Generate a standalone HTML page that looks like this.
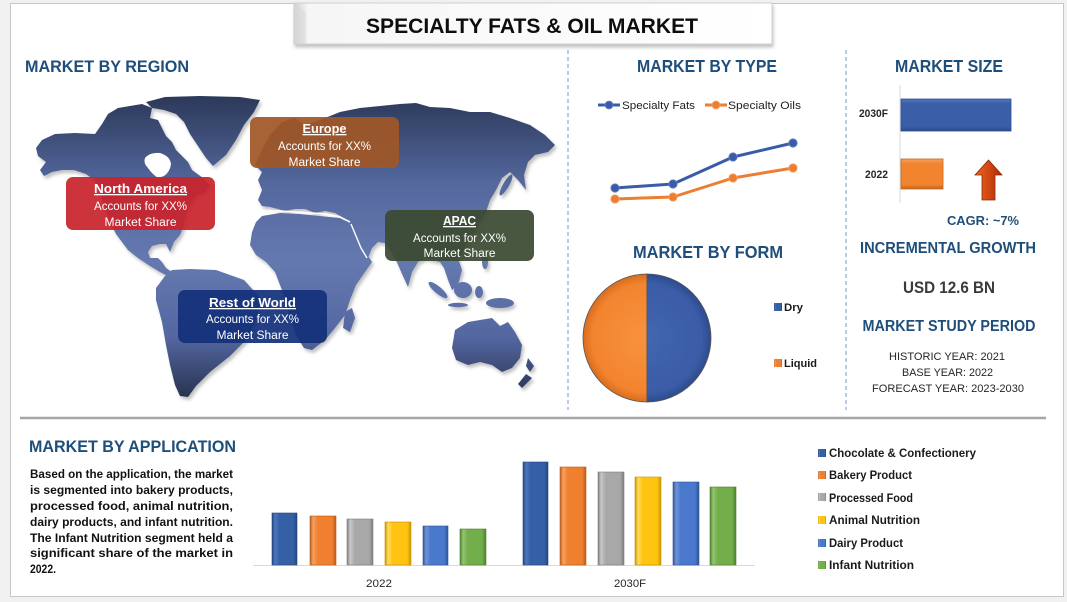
<!DOCTYPE html>
<html><head><meta charset="utf-8"><style>
html,body{margin:0;padding:0;background:#f1f1f1;}
svg{display:block;font-family:"Liberation Sans",Arial,sans-serif;}
</style></head><body>
<svg width="1067" height="602" viewBox="0 0 1067 602" xmlns="http://www.w3.org/2000/svg">
<defs>
<linearGradient id="mapG" x1="0" y1="95" x2="0" y2="398" gradientUnits="userSpaceOnUse">
<stop offset="0" stop-color="#2b3859"/><stop offset="0.3" stop-color="#55699f"/><stop offset="0.55" stop-color="#6579b0"/><stop offset="0.8" stop-color="#5466a0"/><stop offset="1" stop-color="#263250"/>
</linearGradient>
<filter id="sh" x="-5%" y="-5%" width="110%" height="115%"><feDropShadow dx="2" dy="3" stdDeviation="1.5" flood-color="#777" flood-opacity="0.45"/></filter>
<filter id="tsh" x="-5%" y="-20%" width="110%" height="160%"><feDropShadow dx="1" dy="3" stdDeviation="1.5" flood-color="#888" flood-opacity="0.5"/></filter>
<linearGradient id="titleG" x1="0" x2="1" y1="0" y2="0">
<stop offset="0" stop-color="#cfcfcf"/><stop offset="0.03" stop-color="#f6f6f6"/><stop offset="1" stop-color="#ffffff"/>
</linearGradient>
<linearGradient id="gB" x1="0" x2="1"><stop offset="0" stop-color="#24467f"/><stop offset="0.12" stop-color="#4d76bb"/><stop offset="0.3" stop-color="#3560a6"/><stop offset="0.85" stop-color="#3560a6"/><stop offset="1" stop-color="#24467f"/></linearGradient>
<linearGradient id="gO" x1="0" x2="1"><stop offset="0" stop-color="#b85d1c"/><stop offset="0.12" stop-color="#f7a060"/><stop offset="0.3" stop-color="#f0802f"/><stop offset="0.85" stop-color="#f0802f"/><stop offset="1" stop-color="#b85d1c"/></linearGradient>
<linearGradient id="gG" x1="0" x2="1"><stop offset="0" stop-color="#7e7e7e"/><stop offset="0.12" stop-color="#c8c8c8"/><stop offset="0.3" stop-color="#a8a8a8"/><stop offset="0.85" stop-color="#a8a8a8"/><stop offset="1" stop-color="#7e7e7e"/></linearGradient>
<linearGradient id="gY" x1="0" x2="1"><stop offset="0" stop-color="#c99500"/><stop offset="0.12" stop-color="#ffda5c"/><stop offset="0.3" stop-color="#ffc412"/><stop offset="0.85" stop-color="#ffc412"/><stop offset="1" stop-color="#c99500"/></linearGradient>
<linearGradient id="gL" x1="0" x2="1"><stop offset="0" stop-color="#2f5497"/><stop offset="0.12" stop-color="#7093d8"/><stop offset="0.3" stop-color="#4a78cc"/><stop offset="0.85" stop-color="#4a78cc"/><stop offset="1" stop-color="#2f5497"/></linearGradient>
<linearGradient id="gN" x1="0" x2="1"><stop offset="0" stop-color="#4e8030"/><stop offset="0.12" stop-color="#94c571"/><stop offset="0.3" stop-color="#72ae4a"/><stop offset="0.85" stop-color="#72ae4a"/><stop offset="1" stop-color="#4e8030"/></linearGradient>
<linearGradient id="gBv" x1="0" x2="0" y1="0" y2="1"><stop offset="0" stop-color="#4f77bd"/><stop offset="0.15" stop-color="#3b5ea9"/><stop offset="0.85" stop-color="#3b5ea9"/><stop offset="1" stop-color="#2a4a8a"/></linearGradient>
<linearGradient id="gOv" x1="0" x2="0" y1="0" y2="1"><stop offset="0" stop-color="#f8a060"/><stop offset="0.15" stop-color="#f2842f"/><stop offset="0.85" stop-color="#f2842f"/><stop offset="1" stop-color="#c4641c"/></linearGradient>
<linearGradient id="arrG" x1="0" x2="1"><stop offset="0" stop-color="#f0661e"/><stop offset="1" stop-color="#b02a08"/></linearGradient>
<radialGradient id="pieO" cx="647" cy="338" r="64" gradientUnits="userSpaceOnUse"><stop offset="0" stop-color="#f8923f"/><stop offset="0.85" stop-color="#f3842f"/><stop offset="1" stop-color="#d86d1f"/></radialGradient>
<radialGradient id="pieB" cx="647" cy="338" r="64" gradientUnits="userSpaceOnUse"><stop offset="0" stop-color="#4266b0"/><stop offset="0.85" stop-color="#3b5ca7"/><stop offset="1" stop-color="#2d4c8e"/></radialGradient>
</defs>

<!-- frame -->
<rect x="0" y="0" width="1067" height="602" fill="#f1f1f1"/>
<rect x="10.5" y="3.5" width="1053" height="593" fill="#ffffff" stroke="#c6c6c6" stroke-width="1"/>

<!-- title -->
<rect x="294" y="3" width="478" height="41" fill="url(#titleG)" stroke="#d0d0d0" filter="url(#tsh)"/>
<polygon points="294,3 306,12 306,44 294,44" fill="#d8d8d8" opacity="0.5"/>
<text x="532" y="33" font-size="21" font-weight="bold" fill="#0d0d0d" text-anchor="middle" textLength="332" lengthAdjust="spacingAndGlyphs">SPECIALTY FATS &amp; OIL MARKET</text>

<!-- separators -->
<line x1="568" y1="50" x2="568" y2="410" stroke="#6f9bcf" stroke-width="1" stroke-dasharray="4,3"/>
<line x1="846" y1="50" x2="846" y2="410" stroke="#6f9bcf" stroke-width="1" stroke-dasharray="4,3"/>
<line x1="20" y1="418" x2="1046" y2="418" stroke="#a6a6a6" stroke-width="2.5"/>

<!-- headings -->
<g font-weight="bold" fill="#1f4e7a">
<text x="25" y="72" font-size="17" textLength="164" lengthAdjust="spacingAndGlyphs">MARKET BY REGION</text>
<text x="707" y="72" font-size="17.5" text-anchor="middle" textLength="140" lengthAdjust="spacingAndGlyphs">MARKET BY TYPE</text>
<text x="949" y="72" font-size="17.5" text-anchor="middle" textLength="108" lengthAdjust="spacingAndGlyphs">MARKET SIZE</text>
<text x="708" y="258" font-size="17.5" text-anchor="middle" textLength="150" lengthAdjust="spacingAndGlyphs">MARKET BY FORM</text>
<text x="948" y="253" font-size="16" text-anchor="middle" textLength="176" lengthAdjust="spacingAndGlyphs">INCREMENTAL GROWTH</text>
<text x="949" y="331" font-size="16" text-anchor="middle" textLength="173" lengthAdjust="spacingAndGlyphs">MARKET STUDY PERIOD</text>
<text x="29" y="452" font-size="17" textLength="207" lengthAdjust="spacingAndGlyphs">MARKET BY APPLICATION</text>
</g>

<!-- world map -->
<g fill="url(#mapG)" filter="url(#sh)">
<path d="M36,148 L42,140 L55,134 L75,133 L95,134 L102,124 L108,114 L118,108 L130,106 L142,104 L152,108 L150,118 L158,120 L162,128 L166,136 L172,142 L176,150 L182,156 L188,162 L192,170 L203,178 L210,185 L206,192 L196,196 L190,205 L186,215 L184,225 L180,235 L174,242 L170,252 L166,244 L160,244 L152,246 L148,252 L150,258 L158,258 L162,262 L166,268 L172,272 L168,276 L160,272 L150,266 L138,258 L128,250 L122,242 L116,234 L111,224 L106,212 L102,200 L99,188 L94,180 L86,174 L74,170 L62,170 L52,172 L44,176 L40,170 L46,162 L38,156 Z"/>
<path d="M146,102 L165,97 L200,96 L240,97 L260,100 L254,112 L244,125 L236,140 L226,155 L213,166 L206,158 L198,146 L190,134 L184,122 L176,114 L164,110 L152,108 Z"/>
<path d="M165,276 L172,270 L190,269 L216,270 L244,280 L262,300 L256,320 L246,340 L230,356 L210,372 L196,386 L188,397 L180,396 L175,385 L170,365 L166,345 L162,322 L156,300 L156,288 Z"/>
<path d="M258,200 L262,190 L258,180 L262,172 L255,165 L262,150 L270,135 L282,122 L295,118 L305,125 L320,120 L340,112 L360,108 L380,106 L400,104 L416,103 L430,107 L450,108 L470,112 L490,112 L510,118 L530,125 L545,135 L555,145 L548,152 L535,155 L528,162 L524,175 L526,190 L518,180 L510,172 L502,178 L496,190 L490,200 L486,212 L480,222 L475,232 L468,240 L464,250 L458,258 L462,270 L458,285 L452,290 L448,280 L444,268 L440,262 L432,260 L425,258 L418,262 L412,272 L408,287 L402,274 L396,260 L390,250 L385,243 L378,242 L372,248 L368,258 L362,254 L357,244 L354,234 L350,224 L342,217 L335,213 L325,211 L315,213 L305,209 L295,209 L285,211 L278,209 L270,207 L262,206 Z"/>
<path d="M262,216 L280,213 L300,214 L320,216 L340,218 L353,224 L358,236 L364,250 L372,262 L365,272 L356,285 L350,300 L345,315 L335,328 L325,340 L312,350 L304,348 L296,335 L290,318 L286,300 L280,285 L275,272 L266,262 L256,255 L250,245 L252,232 L256,222 Z"/>
<path d="M345,312 L352,308 L355,318 L350,332 L343,328 Z"/>
<ellipse cx="438" cy="290" rx="12" ry="3.5" transform="rotate(40 438 290)"/>
<ellipse cx="463" cy="290" rx="9" ry="8"/>
<ellipse cx="458" cy="305" rx="10" ry="2.2"/>
<ellipse cx="479" cy="292" rx="4" ry="6"/>
<ellipse cx="500" cy="303" rx="14" ry="5"/>
<ellipse cx="485" cy="262" rx="3" ry="7"/>
<ellipse cx="506" cy="185" rx="3" ry="12" transform="rotate(30 506 185)"/>
<path d="M455,330 L468,322 L480,320 L492,318 L500,326 L508,322 L515,332 L522,345 L520,358 L512,368 L502,372 L492,365 L480,362 L468,365 L456,360 L452,348 Z"/>
<path d="M528,358 L534,366 L530,372 L526,366 Z"/>
<path d="M526,374 L532,378 L522,388 L518,384 Z"/>
</g>
<path d="M145,158 Q150,152 160,153 Q170,156 171,164 Q170,172 164,176 L158,178 Q152,174 148,168 Q143,163 145,158 Z" fill="#ffffff"/>
<polyline points="262,211 280,211 296,212 312,213 326,214 340,217 350,222" fill="none" stroke="#ffffff" stroke-width="1.6"/>
<polyline points="351,224 356,236 361,248 367,258" fill="none" stroke="#ffffff" stroke-width="1.4"/>

<!-- region boxes -->
<g font-size="11.5" fill="#ffffff" text-anchor="middle">
<rect x="66" y="177" width="149" height="53" rx="7" fill="#c9232b" opacity="0.93"/>
<text x="140.5" y="193" font-size="13" font-weight="bold" text-decoration="underline" textLength="93" lengthAdjust="spacingAndGlyphs">North America</text>
<text x="140.5" y="210" textLength="93" lengthAdjust="spacingAndGlyphs">Accounts for XX%</text>
<text x="140.5" y="226" textLength="72" lengthAdjust="spacingAndGlyphs">Market Share</text>

<rect x="250" y="117" width="149" height="51" rx="7" fill="#a05727" opacity="0.93"/>
<text x="324.5" y="133" font-size="13" font-weight="bold" text-decoration="underline" textLength="44" lengthAdjust="spacingAndGlyphs">Europe</text>
<text x="324.5" y="150" textLength="93" lengthAdjust="spacingAndGlyphs">Accounts for XX%</text>
<text x="324.5" y="166" textLength="72" lengthAdjust="spacingAndGlyphs">Market Share</text>

<rect x="385" y="210" width="149" height="51" rx="7" fill="#3b4a31" opacity="0.93"/>
<text x="459.5" y="225" font-size="13" font-weight="bold" text-decoration="underline" textLength="33" lengthAdjust="spacingAndGlyphs">APAC</text>
<text x="459.5" y="242" textLength="93" lengthAdjust="spacingAndGlyphs">Accounts for XX%</text>
<text x="459.5" y="257" textLength="72" lengthAdjust="spacingAndGlyphs">Market Share</text>

<rect x="178" y="290" width="149" height="53" rx="7" fill="#13307a" opacity="0.93"/>
<text x="252.5" y="307" font-size="13" font-weight="bold" text-decoration="underline" textLength="87" lengthAdjust="spacingAndGlyphs">Rest of World</text>
<text x="252.5" y="323" textLength="93" lengthAdjust="spacingAndGlyphs">Accounts for XX%</text>
<text x="252.5" y="339" textLength="72" lengthAdjust="spacingAndGlyphs">Market Share</text>
</g>

<!-- market by type -->
<g font-size="11" fill="#222">
<line x1="598" y1="105" x2="620" y2="105" stroke="#3a5ca8" stroke-width="3"/>
<circle cx="609" cy="105" r="4" fill="#3a5ca8" stroke="#6a88c8" stroke-width="0.8"/>
<text x="622" y="109" textLength="73" lengthAdjust="spacingAndGlyphs">Specialty Fats</text>
<line x1="705" y1="105" x2="727" y2="105" stroke="#ed7d31" stroke-width="3"/>
<circle cx="716" cy="105" r="4" fill="#ed7d31" stroke="#f6a56c" stroke-width="0.8"/>
<text x="728" y="109" textLength="73" lengthAdjust="spacingAndGlyphs">Specialty Oils</text>
</g>
<polyline points="615,188 673,184 733,157 793,143" fill="none" stroke="#3a5ca8" stroke-width="3" stroke-linejoin="round"/>
<polyline points="615,199 673,197 733,178 793,168" fill="none" stroke="#ed7d31" stroke-width="3" stroke-linejoin="round"/>
<g fill="#3a5ca8" stroke="#6a88c8" stroke-width="0.8">
<circle cx="615" cy="188" r="4.2"/><circle cx="673" cy="184" r="4.2"/><circle cx="733" cy="157" r="4.2"/><circle cx="793" cy="143" r="4.2"/>
</g>
<g fill="#ed7d31" stroke="#f6a56c" stroke-width="0.8">
<circle cx="615" cy="199" r="4.2"/><circle cx="673" cy="197" r="4.2"/><circle cx="733" cy="178" r="4.2"/><circle cx="793" cy="168" r="4.2"/>
</g>

<!-- market size -->
<line x1="900" y1="85" x2="900" y2="203" stroke="#d9d9d9" stroke-width="1"/>
<rect x="901" y="99" width="110" height="32" fill="url(#gBv)" stroke="#2f4f8f" stroke-width="0.8"/>
<rect x="901" y="159" width="42" height="30" fill="url(#gOv)" stroke="#c4641c" stroke-width="0.8"/>
<g font-size="11" font-weight="bold" fill="#262626">
<text x="859" y="117" textLength="29" lengthAdjust="spacingAndGlyphs">2030F</text>
<text x="865" y="178" textLength="23" lengthAdjust="spacingAndGlyphs">2022</text>
</g>
<polygon points="988.5,160 1002,175 995,175 995,200 982,200 982,175 975,175" fill="url(#arrG)" stroke="#8a2a0a" stroke-width="0.8"/>
<text x="947" y="225" font-size="12.5" font-weight="bold" fill="#1f4e7a" textLength="72" lengthAdjust="spacingAndGlyphs">CAGR:  ~7%</text>

<!-- pie -->
<path d="M647,274 A64,64 0 0 0 647,402 Z" fill="url(#pieO)" stroke="#555" stroke-width="0.8"/>
<path d="M647,274 A64,64 0 0 1 647,402 Z" fill="url(#pieB)" stroke="#555" stroke-width="0.8"/>
<rect x="774" y="303" width="8" height="8" fill="url(#gB)"/>
<rect x="774" y="359" width="8" height="8" fill="url(#gO)"/>
<g font-size="11" font-weight="bold" fill="#1a1a1a">
<text x="784" y="311" textLength="19" lengthAdjust="spacingAndGlyphs">Dry</text>
<text x="784" y="367" textLength="33" lengthAdjust="spacingAndGlyphs">Liquid</text>
</g>

<!-- incremental / study -->
<text x="949" y="293" font-size="17" font-weight="bold" fill="#3a3a3a" text-anchor="middle" textLength="92" lengthAdjust="spacingAndGlyphs">USD 12.6 BN</text>
<g font-size="11" fill="#262626" text-anchor="middle">
<text x="947" y="360" textLength="116" lengthAdjust="spacingAndGlyphs">HISTORIC YEAR: 2021</text>
<text x="947.5" y="376" textLength="91" lengthAdjust="spacingAndGlyphs">BASE YEAR: 2022</text>
<text x="948" y="392" textLength="152" lengthAdjust="spacingAndGlyphs">FORECAST YEAR: 2023-2030</text>
</g>

<!-- application paragraph -->
<g font-size="11.5" font-weight="bold" fill="#111">
<text x="30" y="478" textLength="203" lengthAdjust="spacingAndGlyphs">Based on the application, the market</text>
<text x="30" y="494" textLength="203" lengthAdjust="spacingAndGlyphs">is segmented into bakery products,</text>
<text x="30" y="510" textLength="203" lengthAdjust="spacingAndGlyphs">processed food, animal nutrition,</text>
<text x="30" y="526" textLength="203" lengthAdjust="spacingAndGlyphs">dairy products, and infant nutrition.</text>
<text x="30" y="542" textLength="203" lengthAdjust="spacingAndGlyphs">The Infant Nutrition segment held a</text>
<text x="30" y="557" textLength="203" lengthAdjust="spacingAndGlyphs">significant share of the market in</text>
<text x="30" y="573" textLength="26" lengthAdjust="spacingAndGlyphs">2022.</text>
</g>

<!-- application bars -->
<line x1="253" y1="565.5" x2="755" y2="565.5" stroke="#d9d9d9" stroke-width="1"/>
<g stroke-width="0.6">
<rect x="272" y="513" width="25" height="52" fill="url(#gB)" stroke="#24467f"/>
<rect x="310" y="516" width="26" height="49" fill="url(#gO)" stroke="#b85d1c"/>
<rect x="347" y="519" width="26" height="46" fill="url(#gG)" stroke="#7e7e7e"/>
<rect x="385" y="522" width="26" height="43" fill="url(#gY)" stroke="#c99500"/>
<rect x="423" y="526" width="25" height="39" fill="url(#gL)" stroke="#2f5497"/>
<rect x="460" y="529" width="26" height="36" fill="url(#gN)" stroke="#4e8030"/>

<rect x="523" y="462" width="25" height="103" fill="url(#gB)" stroke="#24467f"/>
<rect x="560" y="467" width="26" height="98" fill="url(#gO)" stroke="#b85d1c"/>
<rect x="598" y="472" width="26" height="93" fill="url(#gG)" stroke="#7e7e7e"/>
<rect x="635" y="477" width="26" height="88" fill="url(#gY)" stroke="#c99500"/>
<rect x="673" y="482" width="26" height="83" fill="url(#gL)" stroke="#2f5497"/>
<rect x="710" y="487" width="26" height="78" fill="url(#gN)" stroke="#4e8030"/>
</g>
<g font-size="11" fill="#262626" text-anchor="middle">
<text x="379" y="587" textLength="26" lengthAdjust="spacingAndGlyphs">2022</text>
<text x="630" y="587" textLength="32" lengthAdjust="spacingAndGlyphs">2030F</text>
</g>

<!-- application legend -->
<rect x="818" y="449" width="8" height="8" fill="url(#gB)"/>
<rect x="818" y="471" width="8" height="8" fill="url(#gO)"/>
<rect x="818" y="493" width="8" height="8" fill="url(#gG)"/>
<rect x="818" y="516" width="8" height="8" fill="url(#gY)"/>
<rect x="818" y="539" width="8" height="8" fill="url(#gL)"/>
<rect x="818" y="561" width="8" height="8" fill="url(#gN)"/>
<g font-size="11.5" font-weight="bold" fill="#1a1a1a">
<text x="829" y="457" textLength="147" lengthAdjust="spacingAndGlyphs">Chocolate &amp; Confectionery</text>
<text x="829" y="479" textLength="83" lengthAdjust="spacingAndGlyphs">Bakery Product</text>
<text x="829" y="502" textLength="84" lengthAdjust="spacingAndGlyphs">Processed Food</text>
<text x="829" y="524" textLength="91" lengthAdjust="spacingAndGlyphs">Animal Nutrition</text>
<text x="829" y="547" textLength="74" lengthAdjust="spacingAndGlyphs">Dairy Product</text>
<text x="829" y="569" textLength="85" lengthAdjust="spacingAndGlyphs">Infant Nutrition</text>
</g>
</svg>
</body></html>
